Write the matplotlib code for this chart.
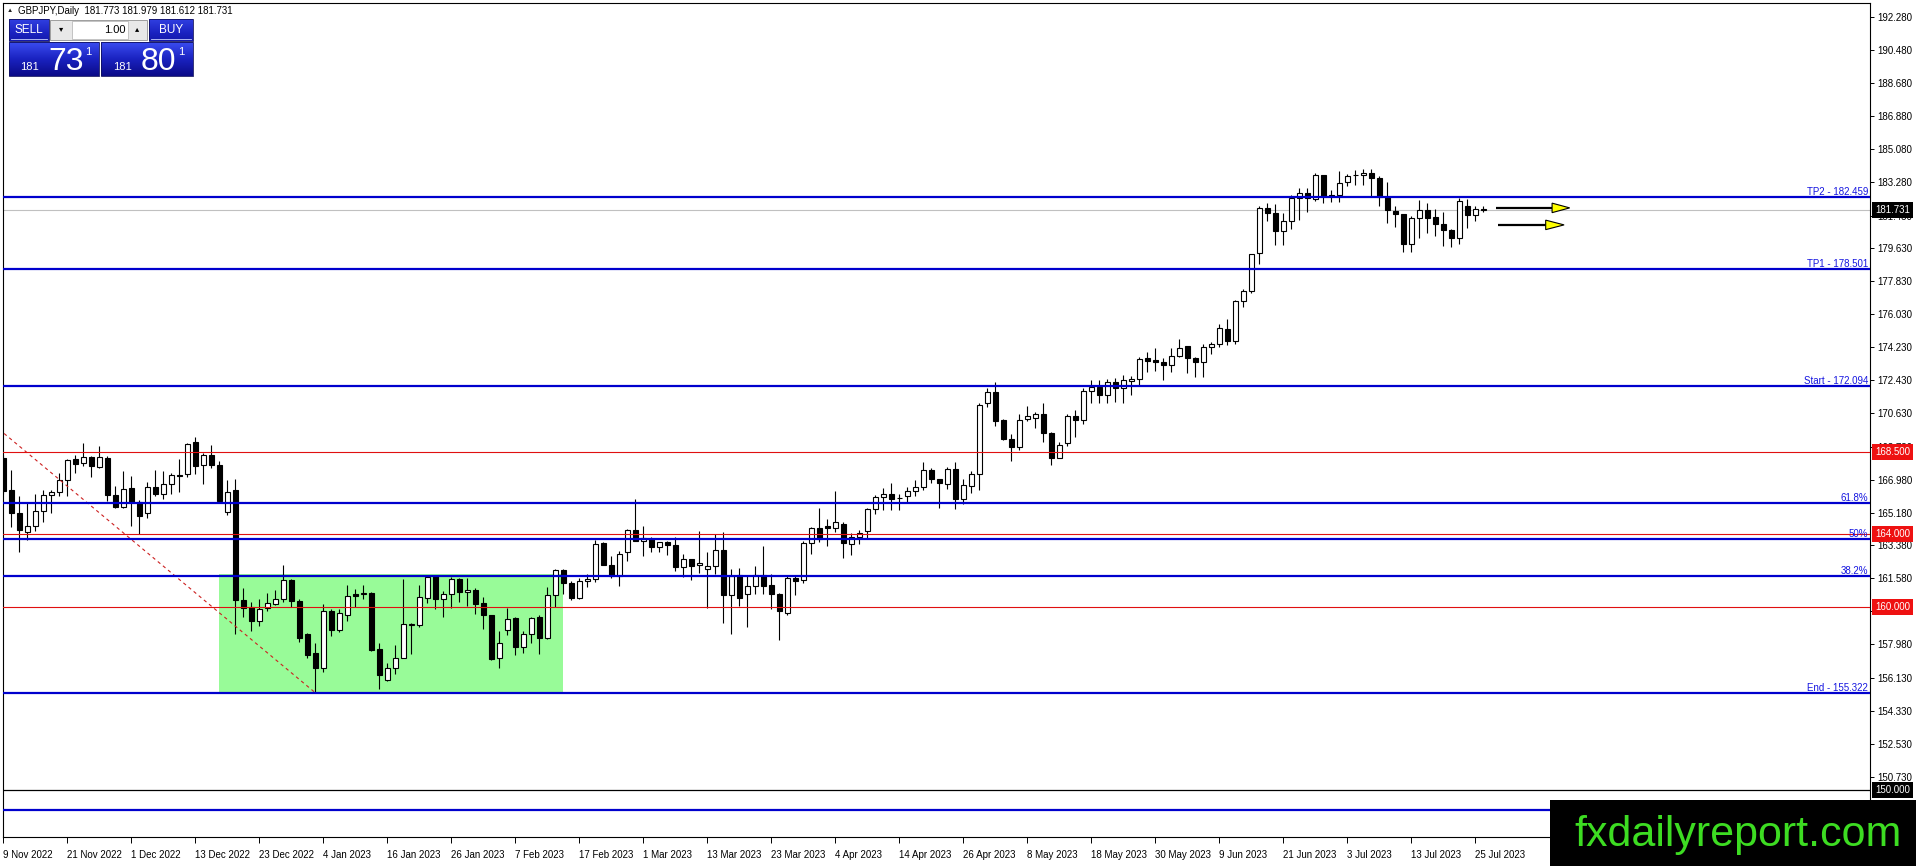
import numpy as np
import matplotlib.pyplot as plt
from matplotlib.patches import Rectangle, Polygon
from matplotlib.transforms import blended_transform_factory, offset_copy
from matplotlib.colors import LinearSegmentedColormap

plt.rcParams['font.family'] = ['Liberation Sans', 'DejaVu Sans']

W, H = 1916, 866

# GBPJPY daily candles, 9 Nov 2022 .. 26 Jul 2023
opens = [
    168.19, 166.44, 165.15, 164.09, 164.42, 165.28, 166.15, 166.31, 166.96, 168.10,
    167.91, 168.24, 167.69, 168.19, 166.15, 165.49, 166.53, 165.74, 165.15, 166.59,
    166.17, 166.75, 167.25, 167.31, 169.05, 167.76, 168.32, 167.76, 165.21, 166.39,
    160.41, 160.01, 159.27, 159.97, 160.19, 160.47, 161.51, 160.32, 158.54, 157.49,
    156.70, 159.82, 158.76, 159.60, 160.71, 160.71, 160.80, 157.70, 156.00, 156.66,
    157.24, 159.05, 159.03, 160.50, 161.72, 160.44, 160.71, 161.54, 160.81, 160.95,
    160.22, 159.56, 157.20, 158.74, 159.40, 157.83, 158.52, 159.47, 158.34, 160.66,
    162.03, 161.32, 160.53, 161.41, 161.54, 163.49, 162.32, 161.72, 163.04, 164.22,
    163.64, 163.73, 163.27, 163.57, 163.42, 162.18, 162.63, 162.29, 162.09, 162.27,
    163.13, 160.66, 161.76, 160.71, 161.15, 161.79, 161.20, 160.75, 159.69, 161.62,
    161.51, 163.54, 164.31, 164.47, 164.34, 164.58, 163.48, 163.85, 164.16, 165.40,
    166.04, 166.17, 166.00, 166.09, 166.37, 166.59, 167.53, 166.99, 166.77, 167.59,
    165.95, 166.62, 167.31, 171.15, 171.75, 170.23, 169.18, 168.77, 170.32, 170.38,
    170.60, 169.56, 168.19, 168.99, 170.47, 170.27, 171.84, 172.06, 171.64, 172.33,
    171.97, 172.39, 172.51, 173.61, 173.52, 173.43, 173.28, 173.76, 174.29, 173.61,
    173.43, 174.25, 174.43, 175.20, 174.58, 176.77, 177.32, 179.37, 181.84, 181.56,
    180.56, 181.11, 182.39, 182.66, 182.35, 183.67, 182.55, 182.53, 183.24, 183.63,
    183.63, 183.76, 183.48, 182.44, 181.69, 181.51, 179.86, 181.29, 181.75, 181.34,
    180.96, 180.65, 180.19, 181.98, 181.47, 181.773,
]
highs = [
    168.32, 167.49, 166.07, 165.71, 166.22, 166.40, 166.40, 167.32, 168.13, 168.32,
    169.01, 168.28, 168.83, 168.28, 166.66, 167.45, 167.18, 165.89, 166.85, 167.49,
    167.45, 167.36, 168.10, 169.01, 169.29, 168.46, 168.87, 168.00, 166.94, 167.03,
    161.06, 160.28, 160.47, 160.78, 160.93, 162.31, 161.57, 160.47, 158.57, 158.02,
    160.19, 159.92, 159.92, 161.20, 161.02, 161.20, 160.83, 158.03, 156.97, 157.94,
    161.54, 159.16, 161.23, 161.72, 161.77, 160.90, 161.66, 161.59, 161.59, 161.08,
    160.57, 159.58, 158.70, 159.95, 159.47, 158.70, 159.49, 159.58, 161.12, 162.09,
    162.09, 161.45, 161.59, 161.81, 163.68, 163.55, 162.82, 163.09, 164.28, 165.92,
    164.46, 163.82, 163.59, 163.64, 163.82, 162.91, 162.66, 164.19, 163.04, 164.01,
    164.10, 162.09, 162.17, 161.70, 162.24, 163.34, 161.84, 160.79, 161.70, 161.70,
    163.63, 164.40, 165.45, 164.85, 166.35, 164.67, 164.08, 164.25, 165.45, 166.13,
    166.55, 166.82, 166.22, 166.59, 166.95, 167.92, 167.64, 166.99, 167.68, 167.92,
    166.99, 167.46, 171.18, 172.02, 172.33, 170.32, 169.50, 170.60, 171.02, 170.69,
    171.15, 169.59, 169.05, 170.60, 170.78, 171.97, 172.46, 172.46, 172.51, 172.57,
    172.73, 172.64, 173.70, 173.97, 174.21, 173.61, 174.16, 174.65, 174.29, 173.70,
    174.38, 174.52, 175.48, 175.75, 176.81, 177.40, 179.33, 181.93, 182.11, 182.07,
    181.56, 182.53, 182.93, 182.93, 183.76, 183.67, 182.84, 183.88, 183.72, 183.94,
    183.98, 183.98, 183.57, 183.24, 181.93, 181.51, 181.38, 182.26, 182.11, 181.78,
    181.60, 180.69, 182.39, 182.33, 181.97, 181.979,
]
lows = [
    166.17, 164.38, 163.04, 163.68, 164.18, 164.69, 165.15, 166.11, 166.07, 167.36,
    167.73, 167.12, 167.64, 165.80, 165.45, 165.45, 164.46, 164.00, 164.88, 166.11,
    165.94, 166.22, 166.29, 167.12, 167.27, 166.75, 167.64, 165.78, 165.06, 158.54,
    159.46, 158.72, 158.99, 159.79, 160.14, 160.28, 160.01, 158.08, 157.25, 155.322,
    156.48, 158.45, 158.67, 159.24, 160.01, 160.47, 157.62, 155.54, 155.99, 156.36,
    157.22, 157.46, 158.92, 160.26, 159.89, 159.44, 159.95, 160.31, 160.07, 159.65,
    158.83, 157.10, 156.66, 158.47, 157.37, 157.52, 158.06, 157.46, 158.28, 160.04,
    160.71, 160.39, 160.44, 161.12, 161.39, 162.30, 161.59, 161.14, 162.51, 163.62,
    162.78, 163.00, 163.04, 162.87, 161.96, 161.63, 161.50, 161.85, 159.95, 161.81,
    159.12, 158.52, 160.07, 158.92, 160.75, 160.75, 159.93, 158.19, 159.60, 160.66,
    161.30, 162.94, 163.58, 163.36, 164.12, 162.72, 162.85, 163.48, 163.76, 165.12,
    165.31, 165.31, 165.31, 165.77, 166.07, 166.44, 166.80, 165.45, 166.49, 165.40,
    165.64, 166.26, 166.44, 170.93, 169.90, 169.14, 168.01, 168.59, 170.18, 169.83,
    169.05, 167.81, 168.14, 168.83, 169.32, 170.01, 171.15, 171.18, 171.15, 171.23,
    171.18, 171.60, 172.15, 172.88, 172.93, 172.46, 172.88, 173.70, 172.79, 172.61,
    172.61, 173.88, 174.25, 174.34, 174.43, 176.44, 177.18, 178.77, 181.16, 179.83,
    179.83, 180.69, 181.20, 181.65, 182.20, 182.11, 182.15, 182.15, 183.03, 183.12,
    183.12, 182.51, 181.97, 181.05, 180.78, 179.41, 179.46, 180.19, 180.50, 180.32,
    179.79, 179.70, 179.86, 180.74, 181.11, 181.612,
]
closes = [
    166.35, 165.15, 164.20, 164.42, 165.28, 166.15, 166.33, 166.94, 168.08, 167.84,
    168.24, 167.73, 168.24, 166.13, 165.49, 166.48, 165.74, 164.97, 166.59, 166.17,
    166.77, 167.21, 167.18, 168.92, 167.73, 168.32, 167.76, 165.80, 166.33, 160.41,
    159.95, 159.24, 159.92, 160.25, 160.47, 161.51, 160.32, 158.30, 157.40, 156.70,
    159.79, 158.76, 159.70, 160.61, 160.63, 160.80, 157.67, 156.27, 156.66, 157.24,
    159.07, 159.10, 160.57, 161.66, 160.44, 160.71, 161.54, 160.86, 160.95, 160.20,
    159.56, 157.15, 158.03, 159.34, 157.83, 158.52, 159.43, 158.34, 160.66, 162.03,
    161.30, 160.53, 161.45, 161.57, 163.46, 162.30, 161.72, 162.91, 164.22, 163.64,
    163.79, 163.27, 163.55, 163.39, 162.18, 162.63, 162.27, 162.41, 162.23, 163.13,
    160.66, 161.72, 160.52, 161.15, 161.79, 161.17, 160.75, 159.80, 161.62, 161.44,
    163.54, 164.31, 163.76, 164.34, 164.67, 163.54, 163.85, 164.08, 165.40, 166.04,
    166.17, 165.91, 165.98, 166.37, 166.59, 167.53, 166.99, 166.80, 167.59, 165.95,
    166.68, 167.31, 171.09, 171.75, 170.20, 169.18, 168.77, 170.27, 170.45, 170.60,
    169.56, 168.19, 168.90, 170.47, 170.27, 171.84, 172.06, 171.64, 172.35, 171.97,
    172.42, 172.51, 173.56, 173.48, 173.43, 173.28, 173.76, 174.21, 173.61, 173.43,
    174.25, 174.43, 175.29, 174.58, 176.77, 177.32, 179.30, 181.87, 181.56, 180.56,
    181.11, 182.39, 182.66, 182.39, 183.67, 182.51, 182.50, 183.21, 183.57, 183.67,
    183.76, 183.48, 182.44, 181.75, 181.51, 179.86, 181.29, 181.75, 181.29, 180.96,
    180.65, 180.19, 182.24, 181.44, 181.78, 181.731,
]

date_labels = ["9 Nov 2022", "21 Nov 2022", "1 Dec 2022", "13 Dec 2022", "23 Dec 2022",
               "4 Jan 2023", "16 Jan 2023", "26 Jan 2023", "7 Feb 2023", "17 Feb 2023",
               "1 Mar 2023", "13 Mar 2023", "23 Mar 2023", "4 Apr 2023", "14 Apr 2023",
               "26 Apr 2023", "8 May 2023", "18 May 2023", "30 May 2023", "9 Jun 2023",
               "21 Jun 2023", "3 Jul 2023", "13 Jul 2023", "25 Jul 2023"]
bars_per_label = 8

price_ticks = [192.28, 190.48, 188.68, 186.88, 185.08, 183.28, 181.43, 179.63, 177.83,
               176.03, 174.23, 172.43, 170.63, 168.78, 166.98, 165.18, 163.38, 161.58,
               159.78, 157.98, 156.13, 154.33, 152.53, 150.73, 148.93]

# drawn objects
tp2, tp1, fib_start, fib_end, tp1_low = 182.459, 178.501, 172.094, 155.322, 148.915
fib_ratios = [0.618, 0.5, 0.382]
red_levels = [168.5, 164.0, 160.0]
black_level = 150.0
last_price = 181.731
fib_start_bar, fib_end_bar = -7, 39
zone_bars = (27, 70)
zone_top = 161.8
arrows = [(181.85, 186.6, 193.6, 195.8), (180.92, 186.9, 192.8, 195.1)]

BLUE = '#0000CD'
RED = '#E01010'

fig = plt.figure(figsize=(W / 100, H / 100), dpi=100)
ax = fig.add_axes([3 / W, 1 - 837 / H, 1867 / W, 834 / H])
ax.set_xlim(-0.04, 233.34)
ax.set_ylim(147.43, 193.06)

o = np.array(opens); h = np.array(highs); l = np.array(lows); c = np.array(closes)
x = np.arange(len(o))
up = c >= o

# green zone
ax.add_patch(Rectangle((zone_bars[0], fib_end), zone_bars[1] - zone_bars[0],
                       zone_top - fib_end, facecolor='#98FB98', edgecolor='none', zorder=0))

# bid line
ax.axhline(last_price, color='#C0C0C0', lw=0.8, zorder=1)

# candles
ax.vlines(x, l, h, color='black', lw=0.8, zorder=2)
ax.bar(x, np.maximum(np.abs(c - o), 0.02), 0.6, bottom=np.minimum(o, c),
       color=np.where(up, 'white', 'black'), edgecolor='black', linewidth=0.8, zorder=3)

# fibo diagonal
ax.plot([fib_start_bar, fib_end_bar], [fib_start, fib_end], color='#CC2020', lw=0.8,
        ls=(0, (3, 3)), zorder=4)

# horizontal levels
for lv in red_levels:
    ax.axhline(lv, color=RED, lw=0.8, zorder=4)
ax.axhline(black_level, color='black', lw=0.9, zorder=4)

trans = blended_transform_factory(ax.transAxes, ax.transData)
lab_tr = offset_copy(trans, fig=fig, x=-2, y=0, units='dots')
blue_levels = [(tp2, 'TP2 - %.3f' % tp2), (tp1, 'TP1 - %.3f' % tp1),
               (fib_start, 'Start - %.3f' % fib_start)]
for r in fib_ratios:
    blue_levels.append((fib_end + r * (fib_start - fib_end), '%g%%' % (r * 100)))
blue_levels += [(fib_end, 'End - %.3f' % fib_end), (tp1_low, 'TP1 - %.3f' % tp1_low)]
for lv, txt in blue_levels:
    ax.axhline(lv, color=BLUE, lw=1.6, zorder=5)
    ax.text(1.0, lv, txt, transform=lab_tr, ha='right', va='bottom', color='#1515E0',
            fontsize=7, zorder=6)

# yellow arrows
for y, x0, x1, x2 in arrows:
    ax.plot([x0, x1], [y, y], color='black', lw=1.6, zorder=6, solid_capstyle='butt')
    ax.add_patch(Polygon([[x1, y + 0.26], [x1, y - 0.26], [x2, y]], closed=True,
                         facecolor='#FFFF00', edgecolor='black', lw=0.8, zorder=7))

# axes styling
for sp in ax.spines.values():
    sp.set_color('black')
    sp.set_linewidth(0.8)
ax.yaxis.tick_right()
ax.set_yticks(price_ticks)
ax.set_yticklabels(['%.3f' % v for v in price_ticks])
ax.tick_params(axis='y', direction='out', length=3, width=0.7, pad=2, labelsize=7)
xt = np.arange(len(date_labels)) * bars_per_label
ax.set_xticks(xt)
ax.set_xticklabels(date_labels)
ax.tick_params(axis='x', direction='out', length=4, width=0.7, pad=5, labelsize=7)
for lbl in ax.get_xticklabels():
    lbl.set_ha('left')

# price boxes on the axis
box_tr = offset_copy(trans, fig=fig, x=5, y=0, units='dots')
for lv, fc in [(last_price, 'black'), (168.5, '#EE1111'), (164.0, '#EE1111'),
               (160.0, '#EE1111'), (black_level, 'black')]:
    ax.text(1.0, lv, '%.3f' % lv, transform=box_tr, ha='left', va='center', color='white',
            fontsize=7, zorder=10,
            bbox=dict(boxstyle='square,pad=0.3', facecolor=fc, edgecolor='none'))

# overlay in pixel coordinates
ov = fig.add_axes([0, 0, 1, 1], zorder=10)
ov.patch.set_alpha(0)
ov.axis('off')

fig.text(7 / W, 1 - 11 / H, '▲', fontsize=4.5, va='center', color='#222222')
fig.text(18 / W, 1 - 11 / H, 'GBPJPY,Daily  181.773 181.979 181.612 181.731',
         fontsize=7, va='center', color='black')

grad = LinearSegmentedColormap.from_list('mt', ['#3a4cf0', '#1a22c0', '#0b0b88'])
g = np.linspace(0, 1, 50).reshape(-1, 1)
for (x0, y0, x1, y1) in [(9, 19, 49, 41), (149, 19, 193, 41)]:
    ov.imshow(g, extent=[x0, x1, y1, y0], aspect='auto', cmap=grad, vmin=-0.3, vmax=1.6)
    ov.add_patch(Rectangle((x0, y0), x1 - x0, y1 - y0, fill=False, ec='#101060', lw=0.6))
    ov.plot([x0 + 2, x1 - 2], [y1 - 2, y1 - 2], color='#c8d0ff', lw=0.6)
for (x0, y0, x1, y1) in [(9, 42, 99, 76), (101, 42, 193, 76)]:
    ov.imshow(g, extent=[x0, x1, y1, y0], aspect='auto', cmap=grad, vmin=0, vmax=1)
    ov.add_patch(Rectangle((x0, y0), x1 - x0, y1 - y0, fill=False, ec='#101060', lw=0.6))
# lot spin box
ov.add_patch(Rectangle((50, 20), 97, 20, facecolor='#e8e8e8', edgecolor='#909090', lw=0.6))
ov.add_patch(Rectangle((72, 21), 56, 18, facecolor='white', edgecolor='#b0b0b0', lw=0.5))
ov.text(61, 30, '▾', fontsize=6, ha='center', va='center', color='black')
ov.text(137, 30, '▴', fontsize=6, ha='center', va='center', color='black')
ov.text(126, 30, '1.00', fontsize=8, ha='right', va='center', color='black')
ov.text(29, 30, 'SELL', fontsize=8.5, ha='center', va='center', color='white')
ov.text(171, 30, 'BUY', fontsize=8.5, ha='center', va='center', color='white')
for xs, big in [(20, '73'), (113, '80')]:
    ov.text(xs, 70, '181', fontsize=8, ha='left', va='baseline', color='white')
    ov.text(xs + 28, 70, big, fontsize=23, ha='left', va='baseline', color='white')
    ov.text(xs + 65, 55, '1', fontsize=8, ha='left', va='baseline', color='white')

# watermark
ov.add_patch(Rectangle((1550, 800), W - 1550, H - 800, facecolor='black', edgecolor='none'))
ov.text(1738, 835, 'fxdailyreport.com', fontsize=31, ha='center', va='center',
        color='#3ddc22')

ov.set_xlim(0, W)
ov.set_ylim(H, 0)

fig.savefig('out.png', dpi=100)
